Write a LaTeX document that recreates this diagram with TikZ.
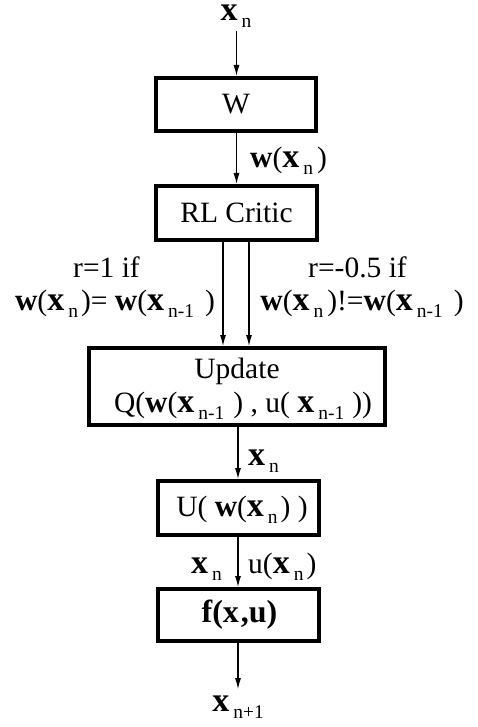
\documentclass[tikz,border=0pt]{standalone}
\usepackage{fontspec}
\setmainfont{Liberation Serif}
\usetikzlibrary{arrows.meta}
\newcommand\sbn[1]{\hspace{4pt}\raisebox{-7pt}{\fontsize{19.5}{19.5}\selectfont #1}}
\newcommand\bx{{\fontsize{34}{34}\selectfont\bfseries x}}
\newcommand\bw{{\fontsize{31}{31}\selectfont\bfseries w}}
\begin{document}
\begin{tikzpicture}[x=1pt,y=-1pt,
  font=\fontsize{29.5}{34}\selectfont,
  blk/.style={draw,line width=4pt,inner sep=0pt,align=center},
  txt/.style={inner sep=0pt},
  arr/.style={-{Latex[length=11pt,width=6pt]},line width=1.2pt}]
\useasboundingbox (0,0) rectangle (477,727);
% boxes
\node[blk,minimum width=160pt,minimum height=53pt] (W) at (236,104.5) {W};
\node[blk,minimum width=161pt,minimum height=54pt] (RL) at (236.5,213) {RL Critic};
\node[blk,minimum width=296pt,minimum height=77pt] (Upd) at (237,386.5) {};
\node[txt,anchor=base] (updA) at (237,378) {Update};
\node[txt,anchor=base] (updB) at (243,412) {Q(\bw(\bx\sbn{n-1}\hspace{9pt}) , u( \bx\sbn{n-1}\hspace{8pt}))};
\node[blk,minimum width=161pt,minimum height=54pt] (U) at (238.5,508) {};
\node[txt,anchor=base] (Ut) at (242,516) {U( \bw(\bx\sbn{n}\hspace{3pt}) )};
\node[blk,minimum width=161pt,minimum height=52pt] (F) at (238.5,615) {};
\node[txt,anchor=base] (Ft) at (239.5,622) {\fontsize{32}{32}\selectfont\textbf{f(x\hspace{2pt},u)}};
% terminal texts
\node[txt,anchor=base] (xn) at (236,21) {\bx\sbn{n}};
\node[txt,anchor=base] (xn1) at (238,711) {\bx\sbn{n+1}};
% connectors
\coordinate (cT) at (236.5,0);
\coordinate (cL) at (223,0);
\coordinate (cR) at (249,0);
\coordinate (cB) at (238,0);
\draw[arr] ([yshift=-3pt]xn.south -| cT) -- (W.north -| cT);
\draw[arr] (W.south -| cT) -- (RL.north -| cT);
\draw[arr] (RL.south -| cL) -- (Upd.north -| cL);
\draw[arr] (RL.south -| cR) -- (Upd.north -| cR);
\draw[arr] (Upd.south -| cB) -- (U.north -| cB);
\draw[arr] (U.south -| cB) -- (F.north -| cB);
\draw[arr] (F.south -| cB) -- ([yshift=6pt]xn1.north -| cB);
% labels
\node[txt,anchor=base west] (lw) at (250,168) {\bw(\bx\sbn{n}\hspace{4pt})};
\node[txt,anchor=base] (l1a) at (106.5,277) {r=1 if};
\node[txt,anchor=base] (l1b) at (115,310) {\bw(\bx\sbn{n}\hspace{3pt})= \bw(\bx\sbn{n-1}\hspace{11pt})};
\node[txt,anchor=base] (l2a) at (357.5,277) {r=-0.5 if};
\node[txt,anchor=base] (l2b) at (362,310) {\bw(\bx\sbn{n}\hspace{4pt})!=\bw(\bx\sbn{n-1}\hspace{11pt})};
\node[txt,anchor=base west] (lx) at (248,465) {\bx\sbn{n}};
\node[txt,anchor=base west] (lx2) at (191,573) {\bx\sbn{n}};
\node[txt,anchor=base west] (lu) at (248,573) {u(\bx\sbn{n}\hspace{3pt})};
\end{tikzpicture}
\end{document}
